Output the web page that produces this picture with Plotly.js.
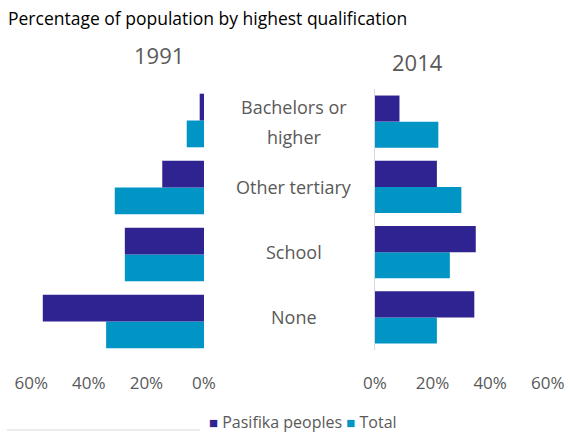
<!DOCTYPE html>
<html>
<head>
<meta charset="utf-8">
<script src="https://cdn.plot.ly/plotly-3.0.1.min.js"></script>
<style>html,body{margin:0;padding:0;background:#fff}#chart{width:570px;height:434px}</style>
</head>
<body>
<div id="chart"></div>
<script>
// ---- data ----
const categories = ["None", "School", "Other tertiary", "Bachelors or higher"];
const categoryLines = [["None"], ["School"], ["Other tertiary"], ["Bachelors or", "higher"]];
const pasifika1991 = [56, 27.5, 14.5, 1.5];
const total1991 = [34, 27.5, 31, 6];
const pasifika2014 = [34.5, 35, 21.5, 8.5];
const total2014 = [21.5, 26, 30, 22];
const tickVals = [0, 20, 40, 60];
const tickText = ["0%", "20%", "40%", "60%"];
const seriesNames = ["Pasifika peoples", "Total"];
const yearLabels = ["1991", "2014"];
const chartTitle = "Percentage of population by highest qualification";

// ---- style ----
const W = 570, H = 434;
const cPas = "#2E2390", cTot = "#0095C5", grey = "#595959";
const px = v => v / W, py = v => 1 - v / H;
const font = "'Open Sans', sans-serif";

const traces = [
  {type: "bar", orientation: "h", name: seriesNames[1], y: categories, x: total1991, xaxis: "x", yaxis: "y", marker: {color: cTot}, showlegend: false, hoverinfo: "none"},
  {type: "bar", orientation: "h", name: seriesNames[0], y: categories, x: pasifika1991, xaxis: "x", yaxis: "y", marker: {color: cPas}, showlegend: false, hoverinfo: "none"},
  {type: "bar", orientation: "h", name: seriesNames[1], y: categories, x: total2014, xaxis: "x2", yaxis: "y2", marker: {color: cTot}, showlegend: false, hoverinfo: "none"},
  {type: "bar", orientation: "h", name: seriesNames[0], y: categories, x: pasifika2014, xaxis: "x2", yaxis: "y2", marker: {color: cPas}, showlegend: false, hoverinfo: "none"}
];

const xCommon = {
  tickvals: tickVals, ticktext: tickText, showgrid: false, zeroline: false, showline: false,
  ticks: "", tickfont: {family: font, size: 17, color: grey}, anchor: "free", position: py(371), fixedrange: true
};
const yCommon = {type: "category", categoryorder: "array", categoryarray: categories, showgrid: false, zeroline: false, showticklabels: false, ticks: "", range: [-0.5, 3.5], fixedrange: true};

const annotations = [
  {text: chartTitle, xref: "paper", yref: "paper", x: px(6), y: py(18), xanchor: "left", yanchor: "middle", showarrow: false, font: {family: font, size: 17.5, color: "#000"}},
  {text: yearLabels[0], xref: "paper", yref: "paper", x: px(159), y: py(55), xanchor: "center", yanchor: "middle", showarrow: false, font: {family: font, size: 22, color: grey}},
  {text: yearLabels[1], xref: "paper", yref: "paper", x: px(418), y: py(62), xanchor: "center", yanchor: "middle", showarrow: false, font: {family: font, size: 22, color: grey}},
  {text: `<span style="color:${cPas};font-size:15px">■</span> ${seriesNames[0]} <span style="color:${cTot};font-size:15px">■</span> ${seriesNames[1]}`, xref: "paper", yref: "paper", x: px(207), y: py(422), xanchor: "left", yanchor: "middle", showarrow: false, font: {family: font, size: 16, color: grey}}
];
categories.forEach((c, i) => {
  const lines = categoryLines[i];
  lines.forEach((t, j) => {
    const shift = (lines.length - 1) * 15 - j * 30;
    annotations.push({text: t, xref: "paper", yref: "y2", x: px(294), y: c, yshift: shift, xanchor: "center", yanchor: "middle", showarrow: false, font: {family: font, size: 18, color: grey}});
  });
});

const layout = {
  width: W, height: H, margin: {l: 0, r: 0, t: 0, b: 0}, paper_bgcolor: "#fff", plot_bgcolor: "rgba(0,0,0,0)",
  barmode: "group", bargap: 0.2, bargroupgap: 0, showlegend: false,
  xaxis: Object.assign({}, xCommon, {domain: [px(14), px(204)], range: [66, 0]}),
  xaxis2: Object.assign({}, xCommon, {domain: [px(375), px(565)], range: [0, 66]}),
  yaxis: Object.assign({}, yCommon, {domain: [py(355), py(87)], anchor: "x", showline: false}),
  yaxis2: Object.assign({}, yCommon, {domain: [py(350), py(89)], anchor: "x2", showline: true, linecolor: "#d9d9d9", linewidth: 1}),
  annotations: annotations,
  shapes: [{type: "line", xref: "paper", yref: "paper", x0: px(7), x1: px(200), y0: py(430), y1: py(430), line: {color: "#d9d9d9", width: 1}}]
};

Plotly.newPlot("chart", traces, layout, {displayModeBar: false, staticPlot: true});
</script>
</body>
</html>
